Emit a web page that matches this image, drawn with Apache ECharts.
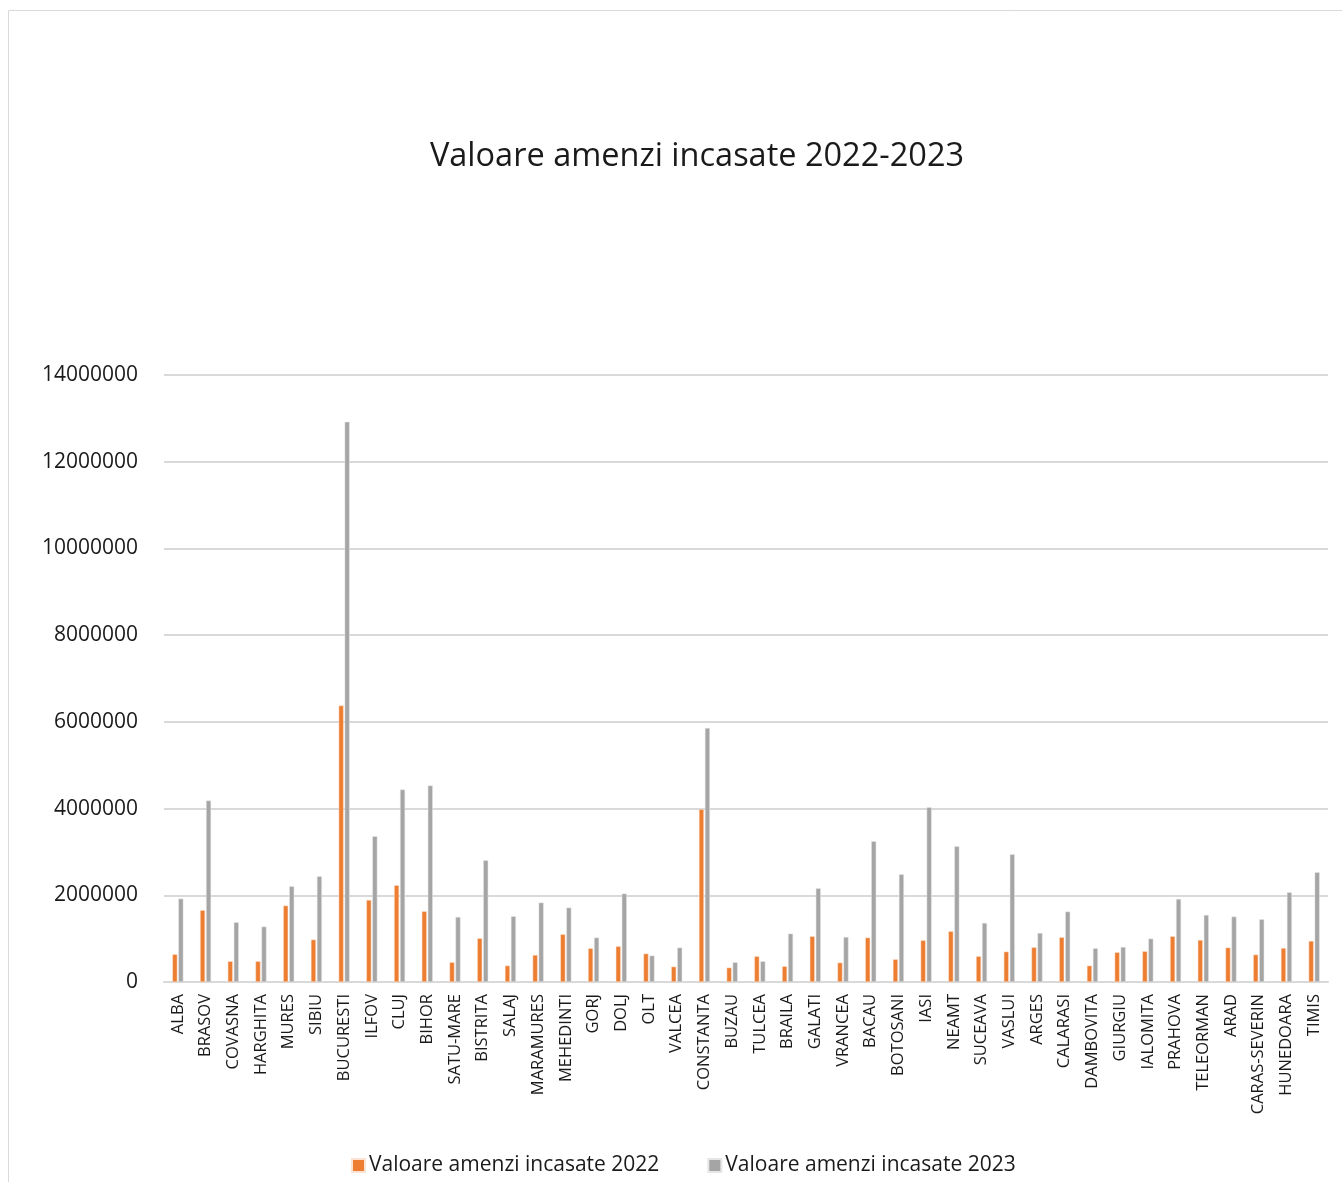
<!DOCTYPE html>
<html>
<head>
<meta charset="utf-8">
<script src="https://cdn.jsdelivr.net/npm/echarts@6/dist/echarts.min.js"></script>
<style>
  html, body { margin: 0; padding: 0; background: #ffffff; }
  #chart { width: 1342px; height: 1182px; }
</style>
</head>
<body>
<div id="chart"></div>
<script>
// Counties (judete)
const judete = [
  'ALBA', 'BRASOV', 'COVASNA', 'HARGHITA', 'MURES', 'SIBIU', 'BUCURESTI', 'ILFOV',
  'CLUJ', 'BIHOR', 'SATU-MARE', 'BISTRITA', 'SALAJ', 'MARAMURES', 'MEHEDINTI', 'GORJ',
  'DOLJ', 'OLT', 'VALCEA', 'CONSTANTA', 'BUZAU', 'TULCEA', 'BRAILA', 'GALATI',
  'VRANCEA', 'BACAU', 'BOTOSANI', 'IASI', 'NEAMT', 'SUCEAVA', 'VASLUI', 'ARGES',
  'CALARASI', 'DAMBOVITA', 'GIURGIU', 'IALOMITA', 'PRAHOVA', 'TELEORMAN', 'ARAD',
  'CARAS-SEVERIN', 'HUNEDOARA', 'TIMIS'
];

// Fines collected in 2022 (lei)
const amenzi2022 = [
  640000, 1655000, 478000, 478000, 1762000, 978000, 6376000, 1892000,
  2231000, 1631000, 455000, 1008000, 378000, 623000, 1100000, 777000,
  824000, 655000, 355000, 3984000, 332000, 593000, 362000, 1054000,
  447000, 1024000, 524000, 962000, 1170000, 593000, 701000, 800000,
  1031000, 378000, 685000, 708000, 1054000, 969000, 794000,
  632000, 784000, 946000
];

// Fines collected in 2023 (lei)
const amenzi2023 = [
  1924000, 4185000, 1377000, 1278000, 2208000, 2438000, 12920000, 3361000,
  4438000, 4530000, 1500000, 2807000, 1516000, 1831000, 1716000, 1024000,
  2039000, 609000, 794000, 5859000, 454000, 477000, 1116000, 2161000,
  1038000, 3246000, 2484000, 4030000, 3130000, 1361000, 2946000, 1130000,
  1624000, 777000, 807000, 1001000, 1915000, 1546000, 1509000,
  1446000, 2069000, 2531000
];

const axisTicks = [0, 2000000, 4000000, 6000000, 8000000, 10000000, 12000000, 14000000];

const FONT = '"Open Sans", "Liberation Sans", sans-serif';

const chart = echarts.init(document.getElementById('chart'), null, { renderer: 'canvas' });

chart.setOption({
  backgroundColor: '#ffffff',
  animation: false,
  title: {
    text: 'Valoare amenzi incasate 2022-2023',
    left: 692,
    textAlign: 'center',
    top: 135,
    textStyle: { fontFamily: FONT, fontSize: 32.5, fontWeight: 'normal', color: '#1a1a1a' }
  },
  graphic: [{
    type: 'rect',
    shape: { x: 8.5, y: 10.5, width: 1400, height: 1300 },
    style: { fill: 'none', stroke: '#d9d9d9', lineWidth: 1 },
    silent: true,
    z: -1
  }],
  legend: {
    bottom: 1,
    left: 346,
    itemWidth: 13,
    itemHeight: 13,
    itemGap: 48,
    icon: 'rect',
    textStyle: { fontFamily: FONT, fontSize: 21, color: '#1a1a1a', padding: [0, 0, 0, -1] },
    data: ['Valoare amenzi incasate 2022', 'Valoare amenzi incasate 2023']
  },
  grid: { left: 164, right: 14, top: 375, bottom: 200, containLabel: false },
  xAxis: {
    type: 'category',
    data: judete,
    axisLine: { show: true, lineStyle: { color: '#d9d9d9', width: 2 } },
    axisTick: { show: false },
    axisLabel: {
      rotate: 90,
      interval: 0,
      margin: 12,
      fontFamily: FONT,
      fontSize: 16.5,
      color: '#1a1a1a'
    }
  },
  yAxis: {
    type: 'value',
    min: axisTicks[0],
    max: axisTicks[axisTicks.length - 1],
    interval: axisTicks[1] - axisTicks[0],
    axisLine: { show: false },
    axisTick: { show: false },
    splitLine: { lineStyle: { color: '#d9d9d9', width: 2 } },
    axisLabel: {
      margin: 26,
      fontFamily: FONT,
      fontSize: 21,
      color: '#1a1a1a',
      formatter: (v) => String(v)
    }
  },
  series: [
    {
      name: 'Valoare amenzi incasate 2022',
      type: 'bar',
      data: amenzi2022,
      barWidth: 5,
      barGap: '20%',
      itemStyle: { color: '#ED7D31', borderColor: '#fbe3d3', borderWidth: 0.5 }
    },
    {
      name: 'Valoare amenzi incasate 2023',
      type: 'bar',
      data: amenzi2023,
      barWidth: 5,
      itemStyle: { color: '#A5A5A5', borderColor: '#e6e6e6', borderWidth: 0.5 }
    }
  ]
});
</script>
</body>
</html>
